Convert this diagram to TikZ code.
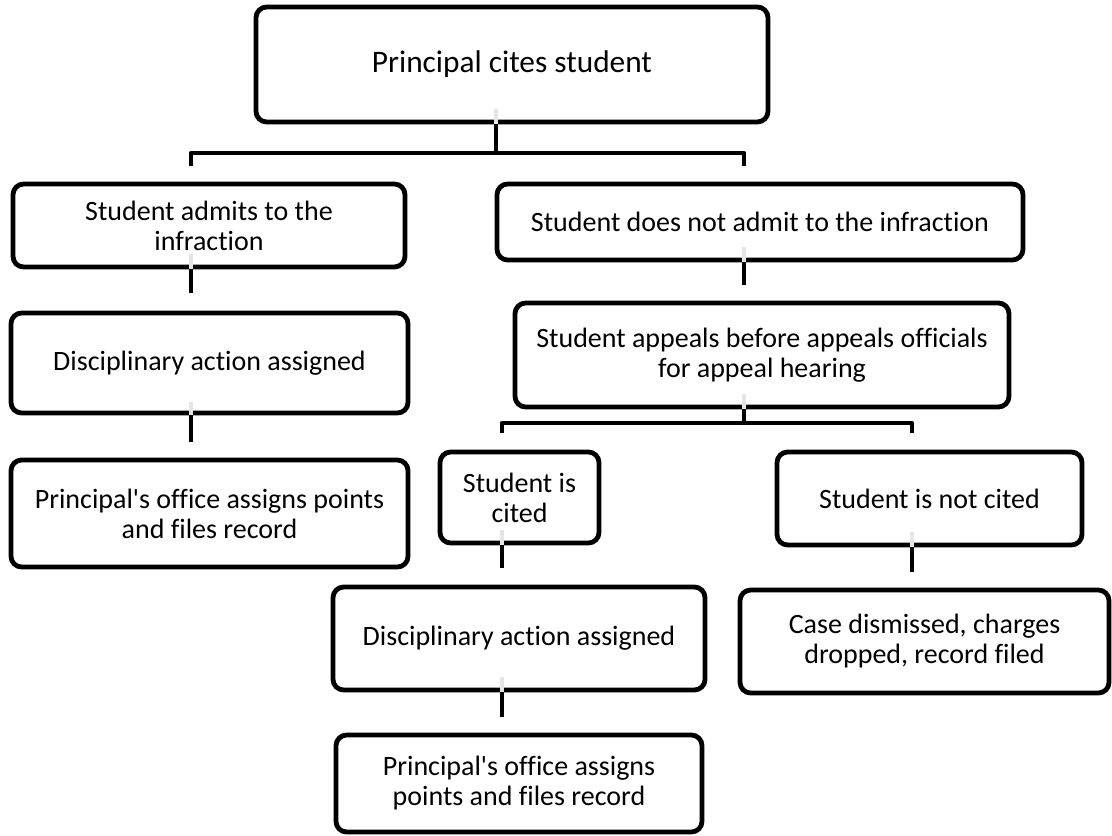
\documentclass[tikz,border=0pt]{standalone}
\usepackage{fontspec}
\setmainfont[Ligatures={NoCommon,TeXOff}]{Carlito}
\usetikzlibrary{calc}
\begin{document}
\begin{tikzpicture}[x=0.75pt,y=-0.75pt,
  box/.style={draw=black, line width=3.6pt, rounded corners=8pt, align=center,
    inner sep=0pt, font=\fontsize{21}{22.5}\selectfont},
  conn/.style={draw=black, line width=3.6pt, line join=round},
  ghost/.style={draw=black!10, line width=3.6pt}]
\useasboundingbox (0,0) rectangle (1112,835);

% boxes
\node[box, minimum width=384pt, minimum height=86.25pt, font=\fontsize{23.5}{26}\selectfont] (A) at (512,64.5) {Principal cites student};
\node[box, minimum width=294pt, minimum height=62.25pt] (B1) at (209,225.5) {Student admits to the\\infraction};
\node[box, minimum width=297.75pt, minimum height=75pt] (B2) at (209.5,363) {Disciplinary action assigned};
\node[box, minimum width=297.75pt, minimum height=80.25pt] (B3) at (209.5,513.5) {Principal's office assigns points\\and files record};
\node[box, minimum width=394.5pt, minimum height=57pt] (C1) at (760,222) {Student does not admit to the infraction};
\node[box, minimum width=370.5pt, minimum height=78pt] (C2) at (762,355) {Student appeals before appeals officials\\for appeal hearing};
\node[box, minimum width=119.25pt, minimum height=68.25pt] (D1) at (519.5,497.5) {Student is\\cited};
\node[box, minimum width=228.75pt, minimum height=69.75pt] (D2) at (929.5,498.5) {Student is not cited};
\node[box, minimum width=279pt, minimum height=77.25pt] (E1) at (519,638.5) {Disciplinary action assigned};
\node[box, minimum width=276.75pt, minimum height=77.25pt] (E2) at (924.5,641.5) {Case dismissed, charges\\dropped, record filed};
\node[box, minimum width=274.5pt, minimum height=72.75pt] (F) at (519,783.5) {Principal's office assigns\\points and files record};

% connector coordinates
\coordinate (a1) at (496,153);
\coordinate (bl) at (191,153);
\coordinate (br) at (744,153);
\coordinate (bl2) at (191,166);
\coordinate (br2) at (744,166);
\coordinate (b12) at (191,293);
\coordinate (b23) at (191,442);
\coordinate (c12) at (744,285);
\coordinate (c2) at (744,423);
\coordinate (dl) at (502,423);
\coordinate (dr) at (912,423);
\coordinate (dl2) at (502,433);
\coordinate (dr2) at (912,433);
\coordinate (d1e) at (502,568);
\coordinate (d2e) at (912,572);
\coordinate (e1f) at (502,717);

% faint segments inside the boxes
\draw[ghost] ($(A.south -| a1)+(0,-15)$) -- (A.south -| a1);
\draw[ghost] ($(B1.south -| bl)+(0,-15)$) -- (B1.south -| bl);
\draw[ghost] ($(B2.south -| bl)+(0,-13)$) -- (B2.south -| bl);
\draw[ghost] ($(C1.south -| br)+(0,-15)$) -- (C1.south -| br);
\draw[ghost] ($(C2.south -| c2)+(0,-15)$) -- (C2.south -| c2);
\draw[ghost] ($(D1.south -| dl)+(0,-15)$) -- (D1.south -| dl);
\draw[ghost] ($(D2.south -| dr)+(0,-15)$) -- (D2.south -| dr);
\draw[ghost] ($(E1.south -| dl)+(0,-15)$) -- (E1.south -| dl);

% connectors
\draw[conn] (A.south -| a1) -- (a1);
\draw[conn] (bl2) -- (bl) -- (br) -- (br2);
\draw[conn] (B1.south -| b12) -- (b12);
\draw[conn] (B2.south -| b23) -- (b23);
\draw[conn] (C1.south -| c12) -- (c12);
\draw[conn] (C2.south -| c2) -- (c2);
\draw[conn] (dl2) -- (dl) -- (dr) -- (dr2);
\draw[conn] (D1.south -| d1e) -- (d1e);
\draw[conn] (D2.south -| d2e) -- (d2e);
\draw[conn] (E1.south -| e1f) -- (e1f);
\end{tikzpicture}
\end{document}
